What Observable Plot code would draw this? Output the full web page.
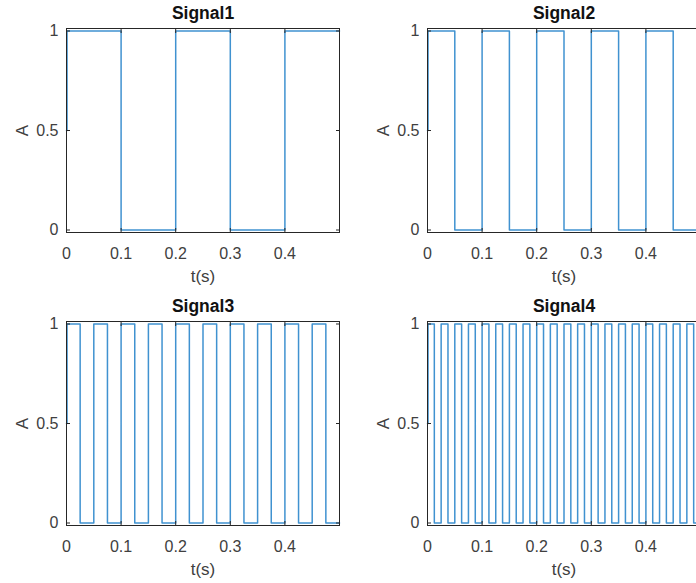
<!DOCTYPE html>
<html><head><meta charset="utf-8">
<script src="https://cdn.jsdelivr.net/npm/d3@7"></script>
<script src="https://cdn.jsdelivr.net/npm/@observablehq/plot@0.6"></script>
<style>
body{margin:0;background:#fff;}
#chart{position:relative;width:696px;height:583px;overflow:hidden;background:#fff;}
#chart svg{position:absolute;}
</style></head><body><div id="chart"></div>
<script>
// Tick values
const xTicks = [0, 0.1, 0.2, 0.3, 0.4];
const yTicks = [0, 0.5, 1];
const titles = ["Signal1", "Signal2", "Signal3", "Signal4"];

// Signal1: level changes (time, amplitude) drawn as a step line
const t1 = [0, 0.001, 0.1, 0.2, 0.3, 0.4, 0.5];
const a1 = [0.5, 1, 0, 1, 0, 1, 1];

// Signal2
const t2 = [0, 0.001, 0.05, 0.1, 0.15, 0.2, 0.25, 0.3, 0.35, 0.4, 0.45, 0.5];
const a2 = [0.5, 1, 0, 1, 0, 1, 0, 1, 0, 1, 0, 0];

// Signal3
const t3 = [0, 0.001, 0.025, 0.05, 0.075, 0.1, 0.125, 0.15, 0.175, 0.2, 0.225, 0.25,
            0.275, 0.3, 0.325, 0.35, 0.375, 0.4, 0.425, 0.45, 0.475, 0.5];
const a3 = [0.5, 1, 0, 1, 0, 1, 0, 1, 0, 1, 0, 1,
            0, 1, 0, 1, 0, 1, 0, 1, 0, 0];

// Signal4
const t4 = [0, 0.001, 0.0125, 0.025, 0.0375, 0.05, 0.0625, 0.075, 0.0875, 0.1,
            0.1125, 0.125, 0.1375, 0.15, 0.1625, 0.175, 0.1875, 0.2,
            0.2125, 0.225, 0.2375, 0.25, 0.2625, 0.275, 0.2875, 0.3,
            0.3125, 0.325, 0.3375, 0.35, 0.3625, 0.375, 0.3875, 0.4,
            0.4125, 0.425, 0.4375, 0.45, 0.4625, 0.475, 0.4875, 0.5];
const a4 = [0.5, 1, 0, 1, 0, 1, 0, 1, 0, 1,
            0, 1, 0, 1, 0, 1, 0, 1,
            0, 1, 0, 1, 0, 1, 0, 1,
            0, 1, 0, 1, 0, 1, 0, 1,
            0, 1, 0, 1, 0, 1, 0, 0];

const series = [[t1, a1], [t2, a2], [t3, a3], [t4, a4]];
const positions = [[0, 0], [361, 0], [0, 293], [361, 293]];

const FONT = "'Liberation Sans', Arial, Helvetica, sans-serif";
const INK = "#262626";
const TXT = "#404040";
const fmt = d => String(d);

function panel(title, t, a) {
  const data = t.map((x, i) => ({t: x, A: a[i]}));
  return Plot.plot({
    width: 350, height: 290,
    marginLeft: 66, marginRight: 11, marginTop: 28, marginBottom: 58,
    style: {fontFamily: FONT, fontSize: "16px", color: TXT, background: "transparent", overflow: "visible"},
    x: {domain: [0, 0.5]},
    y: {domain: [-0.0125, 1.0125]},
    marks: [
      Plot.line(data, {x: "t", y: "A", curve: "step-after", stroke: "#1f7fc8", strokeWidth: 1.5, strokeOpacity: 0.85}),
      Plot.axisX(xTicks, {anchor: "bottom", tickSize: -4, tickPadding: 19, tickFormat: fmt, label: null, stroke: INK, fill: TXT, fontSize: 16}),
      Plot.axisX(xTicks, {anchor: "top", tickSize: -4, tickFormat: () => "", label: null, stroke: INK}),
      Plot.axisY(yTicks, {anchor: "left", tickSize: -4, tickPadding: 12, tickFormat: fmt, label: null, stroke: INK, fill: TXT, fontSize: 16}),
      Plot.axisY(yTicks, {anchor: "right", tickSize: -4, tickFormat: () => "", label: null, stroke: INK}),
      Plot.frame({stroke: INK, strokeWidth: 1}),
      Plot.text([title], {frameAnchor: "top", dy: -15, lineAnchor: "middle", textAnchor: "middle", text: d => d, fontWeight: "bold", fontSize: 17.5, fill: "#111"}),
      Plot.text(["t(s)"], {frameAnchor: "bottom", dy: 44, lineAnchor: "middle", textAnchor: "middle", text: d => d, fontSize: 17, fill: TXT}),
      Plot.text(["A"], {frameAnchor: "left", dx: -44, rotate: -90, lineAnchor: "middle", textAnchor: "middle", text: d => d, fontSize: 17, fill: TXT})
    ]
  });
}

const root = document.getElementById("chart");
series.forEach(([t, a], i) => {
  const svg = panel(titles[i], t, a);
  svg.style.left = positions[i][0] + "px";
  svg.style.top = positions[i][1] + "px";
  root.appendChild(svg);
});
</script>
</body></html>
